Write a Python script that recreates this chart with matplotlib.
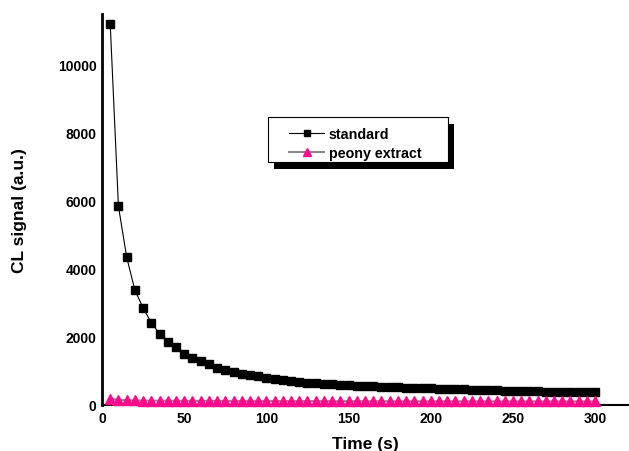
import matplotlib
matplotlib.use("Agg")
import matplotlib.pyplot as plt
from matplotlib.patches import Rectangle

time_s = [5 * i for i in range(1, 61)]
standard = [11170, 5830, 4340, 3370, 2850, 2410, 2090, 1850, 1690, 1500,
            1380, 1280, 1190, 1100, 1040, 960, 910, 880, 840, 795,
            765, 735, 705, 675, 655, 636, 620, 606, 593, 582,
            570, 560, 550, 540, 531, 522, 513, 504, 495, 487,
            479, 471, 464, 457, 450, 443, 436, 430, 424, 418,
            412, 406, 401, 396, 391, 386, 382, 378, 374, 370]
peony = [190, 150, 140, 135, 130, 128, 126, 125, 124, 123,
         122, 121, 120, 120, 119, 119, 118, 118, 117, 117,
         116, 116, 115, 115, 114, 114, 113, 113, 112, 112,
         112, 111, 111, 111, 110, 110, 110, 110, 109, 109,
         109, 109, 108, 108, 108, 108, 107, 107, 107, 107,
         106, 106, 106, 106, 105, 105, 105, 105, 105, 105]
x_ticks = [0, 50, 100, 150, 200, 250, 300]
y_ticks = [0, 2000, 4000, 6000, 8000, 10000]

plt.rcParams['font.family'] = ['Liberation Sans', 'DejaVu Sans']
plt.rcParams['font.weight'] = 'bold'

W, H = 629, 452
fig = plt.figure(figsize=(W / 100, H / 100), dpi=100)
ax = fig.add_axes([102 / W, 46 / H, 526 / W, 391 / H])

ax.plot(time_s, standard, color='black', lw=0.8, marker='s', markersize=5.5,
        markerfacecolor='black', markeredgecolor='black', label='standard',
        clip_on=False, zorder=3)
ax.plot(time_s, peony, color='#888888', lw=1.5, marker='^', markersize=7,
        markerfacecolor='#ff0a8c', markeredgecolor='#ff0a8c', label='peony extract',
        clip_on=False, zorder=4)

ax.set_xlim(0, 320)
ax.set_ylim(0, 11470)
ax.set_xticks(x_ticks)
ax.set_yticks(y_ticks)
for s in ['top', 'right']:
    ax.spines[s].set_visible(False)
ax.spines['left'].set_linewidth(2)
ax.spines['bottom'].set_linewidth(1.5)
ax.tick_params(axis='both', length=0, labelsize=10, pad=4)
for lab in ax.get_xticklabels() + ax.get_yticklabels():
    lab.set_fontweight('bold')

ax.set_xlabel('Time (s)', fontsize=12.5, fontweight='bold', labelpad=8)
ax.set_ylabel('CL signal (a.u.)', fontsize=12.5, fontweight='bold', labelpad=22)

# legend frame with shadow (figure pixel coordinates)
def fig_rect(x0, y0, x1, y1, **kw):
    return Rectangle((x0 / W, 1 - y1 / H), (x1 - x0) / W, (y1 - y0) / H,
                     transform=fig.transFigure, clip_on=False, **kw)

ax.add_patch(fig_rect(274, 125, 454, 170, facecolor='black', edgecolor='none', zorder=5))
ax.add_patch(fig_rect(268, 118, 448, 163, facecolor='white', edgecolor='black',
                      lw=0.8, zorder=6))

leg = ax.legend(loc='upper left', bbox_to_anchor=(287 / W - 0.012, 1 - 118 / H),
                bbox_transform=fig.transFigure,
                frameon=False, handlelength=2.4, handletextpad=0.36,
                borderpad=0.2, labelspacing=0.32, markerscale=0.9,
                prop={'weight': 'bold', 'size': 10.3})
leg.set_zorder(7)

fig.savefig('out.png', dpi=100)
